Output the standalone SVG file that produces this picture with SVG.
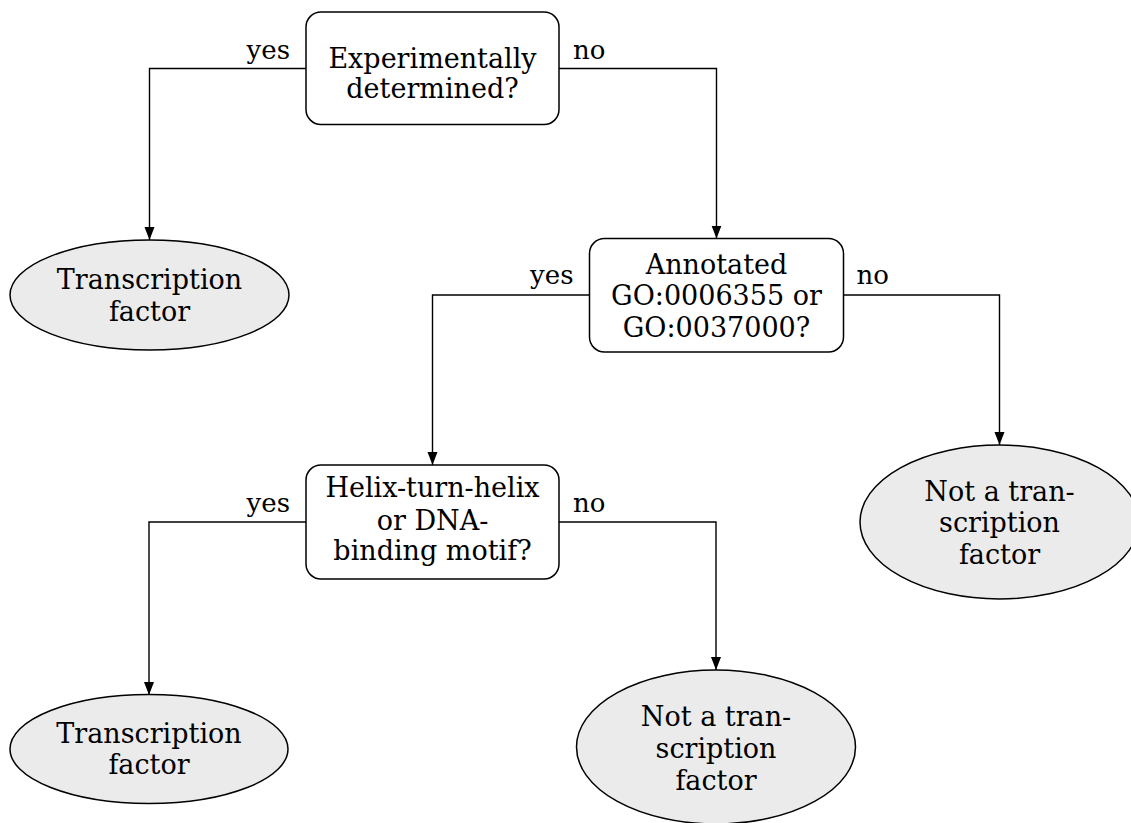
<svg xmlns="http://www.w3.org/2000/svg" width="1131" height="823" viewBox="0 0 1131 823">
<defs>
<marker id="arr" markerUnits="userSpaceOnUse" markerWidth="14" markerHeight="11" refX="13" refY="5" orient="auto">
<path d="M0,0 L13,5 L0,10 z" fill="#000"/>
</marker>
<style>
.box{fill:#fff;stroke:#000;stroke-width:1.5}
.term{fill:#ebebeb;stroke:#000;stroke-width:1.5}
.edge{fill:none;stroke:#000;stroke-width:1.4;marker-end:url(#arr)}
text{font-family:'DejaVu Serif','Liberation Serif',serif;fill:#000}
.t{font-size:27px;text-anchor:middle}
.lbl{font-size:26px}
.yes{text-anchor:end}
</style>
</defs>
<rect width="1131" height="823" fill="#fff"/>
<g id="connectors">
<path class="edge" d="M306,68.5 H149.5 V240"/>
<path class="edge" d="M559,68.5 H716.5 V238.5"/>
<path class="edge" d="M589.5,295 H432.5 V465"/>
<path class="edge" d="M843.5,295 H999.5 V445"/>
<path class="edge" d="M306,522 H149 V695"/>
<path class="edge" d="M559,522 H716 V670"/>
<text class="lbl yes" x="290" y="58.5">yes</text>
<text class="lbl" x="573" y="58.5">no</text>
<text class="lbl yes" x="573.5" y="284">yes</text>
<text class="lbl" x="856.5" y="284">no</text>
<text class="lbl yes" x="290" y="511.5">yes</text>
<text class="lbl" x="573" y="511.5">no</text>
</g>
<g id="q1">
<rect class="box" x="306" y="12" width="253" height="112.5" rx="15" ry="15"/>
<text class="t" x="432.5" y="68">Experimentally</text>
<text class="t" x="432.5" y="97.5">determined?</text>
</g>
<g id="tf1">
<ellipse class="term" cx="149.5" cy="295" rx="139.5" ry="55"/>
<text class="t" x="149.5" y="288.5">Transcription</text>
<text class="t" x="149.5" y="320.5">factor</text>
</g>
<g id="q2">
<rect class="box" x="589.5" y="238.5" width="254" height="113.5" rx="15" ry="15"/>
<text class="t" x="716.5" y="273.5">Annotated</text>
<text class="t" x="716.5" y="305">GO:0006355 or</text>
<text class="t" x="716.5" y="336.5">GO:0037000?</text>
</g>
<g id="ntf1">
<ellipse class="term" cx="999.5" cy="522" rx="139.5" ry="77"/>
<text class="t" x="999.5" y="500.5">Not a tran-</text>
<text class="t" x="999.5" y="532">scription</text>
<text class="t" x="999.5" y="563.5">factor</text>
</g>
<g id="q3">
<rect class="box" x="306" y="465" width="253" height="114" rx="15" ry="15"/>
<text class="t" x="432.5" y="497">Helix-turn-helix</text>
<text class="t" x="432.5" y="529.5">or DNA-</text>
<text class="t" x="432.5" y="560">binding motif?</text>
</g>
<g id="tf2">
<ellipse class="term" cx="149" cy="749" rx="139" ry="54.5"/>
<text class="t" x="149" y="743">Transcription</text>
<text class="t" x="149" y="774">factor</text>
</g>
<g id="ntf2">
<ellipse class="term" cx="716" cy="747" rx="139.5" ry="77"/>
<text class="t" x="716" y="726">Not a tran-</text>
<text class="t" x="716" y="758">scription</text>
<text class="t" x="716" y="789.5">factor</text>
</g>
</svg>
